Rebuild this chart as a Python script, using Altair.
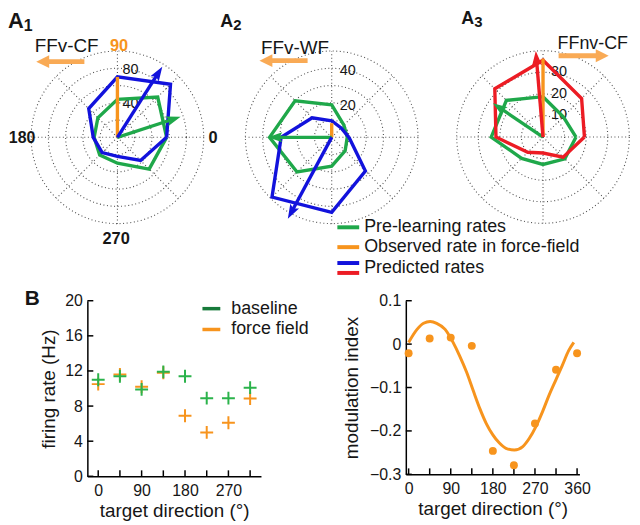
import altair as alt
import pandas as pd

# ---------------- data ----------------
directions = [0, 45, 90, 135, 180, 225, 270, 315]
spoke_angles = [0, 45, 90, 135, 180, 225, 270, 315]

# A1 (FFv-CF)
a1_rings = [20, 40, 60, 80, 100]
a1_ring_labels = [40, 80]
a1_pre = [57, 66, 44, 32, 27, 29, 30, 52]
a1_pred = [57, 87, 70, 47, 28, 25, 22, 38]
a1_obs_dir = [90]
a1_obs = [70]
a1_pre_pd_dir = [18]
a1_pre_pd_len = [77]
a1_pred_pd_dir = [57.6]
a1_pred_pd_len = [97]

# A2 (FFv-WF)
a2_rings = [10, 20, 30, 40, 50]
a2_ring_labels = [20, 40]
a2_pre = [9, 10, 18.8, 30, 36, 28.4, 16.7, 11]
a2_pred = [10, 7.7, 9.6, 16, 29.3, 48.9, 43.5, 27.6]
a2_obs_dir = [90]
a2_obs = [8.2]
a2_pre_pd_dir = [180]
a2_pre_pd_len = [37]
a2_pred_pd_dir = [241.7]
a2_pred_pd_len = [53.6]

# A3 (FFnv-CF)
a3_rings = [10, 20, 30, 40]
a3_ring_labels = [10, 20, 30]
a3_pre = [15.3, 13.3, 18.7, 24, 24, 14, 12.7, 14.3]
a3_pred = [19.2, 25.3, 35.6, 31.6, 21.8, 10, 7.4, 13.2]
a3_obs_dir = [90]
a3_obs = [36.3]
a3_pre_pd_dir = [146]
a3_pre_pd_len = [28]
a3_pred_pd_dir = [94.8]
a3_pred_pd_len = [40]

# B left: firing rates
b_dirs = [0, 45, 90, 135, 180, 225, 270, 315]
b_baseline = [11.0, 11.4, 9.9, 11.9, 11.4, 8.9, 8.9, 10.1]
b_force = [10.5, 11.6, 10.2, 11.8, 6.9, 5.0, 6.1, 8.85]
b_xlabels = [0, 90, 180, 270]
b_xticks = [0, 45, 90, 135, 180, 225, 270, 315]
b_yticks = [0, 4, 8, 12, 16, 20]

# B right: modulation index
mi_dirs = [0, 45, 90, 135, 180, 225, 270, 315, 360]
mi_vals = [-0.021, 0.013, 0.015, -0.004, -0.246, -0.279, -0.183, -0.059, -0.021]
fit_dirs = [0, 18, 32, 46, 60, 78, 95, 109, 124, 138, 152, 166, 180, 194, 208,
            226, 244, 258, 272, 286, 300, 314, 328, 342, 353]
fit_vals = [0.004, 0.034, 0.048, 0.052, 0.048, 0.034, 0.004, -0.027, -0.065, -0.107,
            -0.148, -0.183, -0.209, -0.228, -0.240, -0.244, -0.236, -0.217, -0.190,
            -0.156, -0.118, -0.084, -0.050, -0.015, 0.004]
mi_xlabels = [0, 90, 180, 270, 360]
mi_xticks = [0, 45, 90, 135, 180, 225, 270, 315, 360]
mi_yticks = [-0.3, -0.2, -0.1, 0, 0.1]

legend_top = ["Pre-learning rates", "Observed rate in force-field", "Predicted rates"]

# ---------------- styles ----------------
GREEN = "#1fa84a"
BLUE = "#1212dc"
RED = "#ec1c24"
ORANGE = "#f7941d"
ORANGE_HDR = "#f9aa55"
GREEN_M = "#2bb34b"
GREEN_LEG = "#177a3a"
GRID = "#505050"
TXT = "#161616"
FONT = "Liberation Sans"
HEAD = "M0,-1L0.62,0.8L0,0.45L-0.62,0.8Z"
HEAD_SIZE = 260
TRI = "M0,-1L1,1L-1,1Z"
PLUS = "M-1,0L1,0M0,-1L0,1"
DOTS = [1, 2.6]

BL_ORIGIN = (88, 299)
BL_W, BL_H = 175, 177
BR_ORIGIN = (409, 299)
BR_W, BR_H = 175, 175


def txt(s, origin, px, py, size, weight="normal", color=TXT, align="left", baseline="alphabetic"):
    return alt.Chart(pd.DataFrame({"t": [s]})).mark_text(
        align=align, baseline=baseline, fontSize=size, fontWeight=weight, color=color, font=FONT
    ).encode(x=alt.value(px - origin[0]), y=alt.value(py - origin[1]), text="t:N")


def hrule(origin, x1, x2, y, color, width):
    return alt.Chart(pd.DataFrame({"k": [0]})).mark_rule(color=color, strokeWidth=width).encode(
        x=alt.value(x1 - origin[0]), x2=alt.value(x2 - origin[0]), y=alt.value(y - origin[1]))


def head(origin, x, y, rot, color, size=170):
    return alt.Chart(pd.DataFrame({"k": [0]})).mark_point(
        shape=TRI, filled=True, color=color, size=size, opacity=1, angle=rot
    ).encode(x=alt.value(x - origin[0]), y=alt.value(y - origin[1]))


def polar_group(origin, hw, hh, cx, cy, ppu, rings, ring_labels, ldx, ldy,
                polys, arrows, obs_dir, obs_len):
    lx = cx - origin[0]
    ly = cy - origin[1]
    xd0 = -lx / ppu
    yd0 = (ly - hh) / ppu
    xs = alt.Scale(domain=[xd0, xd0 + hw / ppu], zero=False, nice=False)
    ys = alt.Scale(domain=[yd0, yd0 + hh / ppu], zero=False, nice=False)

    def X(f):
        return alt.X(f, type="quantitative", scale=xs, axis=None)

    def Y(f):
        return alt.Y(f, type="quantitative", scale=ys, axis=None)

    rmax = rings[-1]
    layers = []
    layers.append(
        alt.Chart(pd.DataFrame({"r": rings})).transform_calculate(o="0").mark_point(
            shape="circle", filled=False, color=GRID, strokeWidth=1.1, strokeDash=DOTS, opacity=1
        ).encode(
            x=X("o"), y=Y("o"),
            size=alt.Size("r:Q", scale=alt.Scale(type="pow", exponent=2, domain=[0, rmax],
                                                 range=[0, (2 * rmax * ppu) ** 2]), legend=None))
    )
    layers.append(
        alt.Chart(pd.DataFrame({"a": spoke_angles})).transform_calculate(
            o="0", ex=f"{rmax}*cos(datum.a*PI/180)", ey=f"{rmax}*sin(datum.a*PI/180)"
        ).mark_rule(color=GRID, strokeWidth=1.1, strokeDash=DOTS).encode(
            x=X("o"), y=Y("o"), x2="ex:Q", y2="ey:Q")
    )
    layers.append(
        alt.Chart(pd.DataFrame({"v": ring_labels})).transform_calculate(o="0").mark_text(
            align="left", baseline="middle", dx=ldx, dy=ldy, fontSize=14.5, color=TXT, font=FONT
        ).encode(x=X("o"), y=Y("v"), text="v:Q")
    )
    for rates, color in polys:
        df = pd.DataFrame({"dir": directions + directions[:1], "rate": rates + rates[:1],
                           "k": list(range(len(directions) + 1))})
        layers.append(
            alt.Chart(df).transform_calculate(
                px="datum.rate*cos(datum.dir*PI/180)", py="datum.rate*sin(datum.dir*PI/180)"
            ).mark_line(color=color, strokeWidth=3.4, strokeJoin="miter").encode(
                x=X("px"), y=Y("py"), order="k:Q")
        )
    layers.append(
        alt.Chart(pd.DataFrame({"dir": obs_dir, "len": obs_len})).transform_calculate(
            o="0", ex="datum.len*cos(datum.dir*PI/180)", ey="datum.len*sin(datum.dir*PI/180)"
        ).mark_rule(color=ORANGE, strokeWidth=3.4).encode(x=X("o"), y=Y("o"), x2="ex:Q", y2="ey:Q")
    )
    half = (HEAD_SIZE ** 0.5) / 2
    for dirs, lens, color in arrows:
        base = alt.Chart(pd.DataFrame({"dir": dirs, "len": lens})).transform_calculate(
            o="0",
            hl=f"datum.len - {half}/{ppu}",
            hx="datum.hl*cos(datum.dir*PI/180)",
            hy="datum.hl*sin(datum.dir*PI/180)",
            rot="(450 - datum.dir) % 360",
        )
        layers.append(base.mark_rule(color=color, strokeWidth=3.4).encode(
            x=X("o"), y=Y("o"), x2="hx:Q", y2="hy:Q"))
        layers.append(base.mark_point(shape=HEAD, filled=True, color=color, size=HEAD_SIZE, opacity=1).encode(
            x=X("hx"), y=Y("hy"), angle=alt.Angle("rot:Q", scale=None)))
    return alt.layer(*layers)


# ---------------- polar panels ----------------
a1 = polar_group(BL_ORIGIN, BL_W, BL_H, 118.3, 134.3, 0.87, a1_rings, a1_ring_labels, 5, 1.5,
                 [(a1_pre, GREEN), (a1_pred, BLUE)],
                 [(a1_pre_pd_dir, a1_pre_pd_len, GREEN), (a1_pred_pd_dir, a1_pred_pd_len, BLUE)],
                 a1_obs_dir, a1_obs)
a2 = polar_group(BL_ORIGIN, BL_W, BL_H, 334.3, 134.3, 1.74, a2_rings, a2_ring_labels, 8, 3,
                 [(a2_pre, GREEN), (a2_pred, BLUE)],
                 [(a2_pre_pd_dir, a2_pre_pd_len, GREEN), (a2_pred_pd_dir, a2_pred_pd_len, BLUE)],
                 a2_obs_dir, a2_obs)
a3 = polar_group(BR_ORIGIN, BR_W, BR_H, 547.3, 134.0, 2.175, a3_rings, a3_ring_labels, 8, 0,
                 [(a3_pre, GREEN), (a3_pred, RED)],
                 [(a3_pre_pd_dir, a3_pre_pd_len, GREEN), (a3_pred_pd_dir, a3_pred_pd_len, RED)],
                 a3_obs_dir, a3_obs)

# ---------------- annotations ----------------
O = BL_ORIGIN
ann_left = [
    txt("A", O, 8, 24, 22, "bold"), txt("1", O, 24, 27, 16, "bold"),
    txt("FFv-CF", O, 35, 48, 19),
    hrule(O, 44, 85, 58, ORANGE_HDR, 5), head(O, 43, 58, 270, ORANGE_HDR),
    txt("90", O, 120, 47, 16.5, "bold", ORANGE, "center"),
    txt("180", O, 35.5, 140, 16, "bold", TXT, "right"),
    txt("0", O, 210, 140, 16.5, "bold"),
    txt("270", O, 117, 242, 16.5, "bold", TXT, "center"),
    txt("A", O, 222, 23, 18, "bold"), txt("2", O, 235, 26, 15, "bold"),
    txt("FFv-WF", O, 263, 50, 19),
    hrule(O, 268, 310, 57, ORANGE_HDR, 5), head(O, 268, 57, 270, ORANGE_HDR),
    txt("B", O, 25, 303, 21, "bold"),
    hrule(O, 204, 222, 307, GREEN_LEG, 3.5), txt("baseline", O, 233, 307, 18, baseline="middle"),
    hrule(O, 204, 222, 328, ORANGE, 3.5), txt("force field", O, 233, 328, 18, baseline="middle"),
]
P = BR_ORIGIN
ann_right = [
    txt("A", P, 465, 20, 18, "bold"), txt("3", P, 478, 23, 15, "bold"),
    txt("FFnv-CF", P, 562, 45, 18),
    hrule(P, 563, 607, 52, ORANGE_HDR, 5), head(P, 607, 52, 90, ORANGE_HDR),
    hrule(P, 340, 362, 225, GREEN, 4), txt(legend_top[0], P, 367, 225, 18, baseline="middle"),
    hrule(P, 340, 362, 245, ORANGE, 4), txt(legend_top[1], P, 367, 245, 18, baseline="middle"),
    hrule(P, 340, 362, 261, BLUE, 4), hrule(P, 340, 362, 271, RED, 4),
    txt(legend_top[2], P, 367, 266, 18, baseline="middle"),
]

# ---------------- B left ----------------
xs_bl = alt.Scale(domain=[-22.5, 337.5], zero=False, nice=False)
ys_bl = alt.Scale(domain=[0, 20], zero=False, nice=False)
AX_XL = alt.Axis(values=b_xlabels, title="target direction (°)", ticks=False, grid=False,
                 labelFlush=False, labelOverlap=False, labelPadding=6, titlePadding=4)
AX_YL = alt.Axis(values=b_yticks, title="firing rate (Hz)", ticks=False, grid=False,
                 labelFlush=False, labelOverlap=False, labelPadding=5, titlePadding=6)

bl_xt = alt.Chart(pd.DataFrame({"dir": b_xticks})).mark_rule(color="black", strokeWidth=1.5).encode(
    x=alt.X("dir:Q", scale=xs_bl, axis=AX_XL), y=alt.value(BL_H), y2=alt.value(BL_H - 6))
bl_yt = alt.Chart(pd.DataFrame({"rate": b_yticks})).mark_rule(color="black", strokeWidth=1.5).encode(
    y=alt.Y("rate:Q", scale=ys_bl, axis=AX_YL), x=alt.value(0), x2=alt.value(6))
bl_base = alt.Chart(pd.DataFrame({"dir": b_dirs, "rate": b_baseline})).mark_point(
    shape=PLUS, filled=False, color=GREEN_M, strokeWidth=2, size=169, opacity=1).encode(
    x=alt.X("dir:Q", scale=xs_bl, axis=AX_XL), y=alt.Y("rate:Q", scale=ys_bl, axis=AX_YL))
bl_ff = alt.Chart(pd.DataFrame({"dir": b_dirs, "rate": b_force})).mark_point(
    shape=PLUS, filled=False, color=ORANGE, strokeWidth=2, size=169, opacity=1).encode(
    x=alt.X("dir:Q", scale=xs_bl, axis=AX_XL), y=alt.Y("rate:Q", scale=ys_bl, axis=AX_YL))
bl_cart = alt.layer(bl_xt, bl_yt, bl_ff, bl_base)

bl = alt.layer(bl_cart, a1, a2, *ann_left).resolve_scale(
    x="independent", y="independent", size="independent").properties(width=BL_W, height=BL_H)

# ---------------- B right ----------------
xs_br = alt.Scale(domain=[-6, 365], zero=False, nice=False)
ys_br = alt.Scale(domain=[-0.3, 0.1], zero=False, nice=False)
AX_XR = alt.Axis(values=mi_xlabels, title="target direction (°)", ticks=False, grid=False,
                 labelFlush=False, labelOverlap=False, labelPadding=6, titlePadding=4)
AX_YR = alt.Axis(values=mi_yticks, title="modulation index", ticks=False, grid=False,
                 labelFlush=False, labelOverlap=False, labelPadding=5, titlePadding=8,
                 labelExpr="datum.value == 0 ? '0' : format(datum.value, '.1f')")

br_xt = alt.Chart(pd.DataFrame({"dir": mi_xticks})).mark_rule(color="black", strokeWidth=1.5).encode(
    x=alt.X("dir:Q", scale=xs_br, axis=AX_XR), y=alt.value(BR_H), y2=alt.value(BR_H - 6))
br_yt = alt.Chart(pd.DataFrame({"mi": mi_yticks})).mark_rule(color="black", strokeWidth=1.5).encode(
    y=alt.Y("mi:Q", scale=ys_br, axis=AX_YR), x=alt.value(0), x2=alt.value(6))
br_fit = alt.Chart(pd.DataFrame({"dir": fit_dirs, "mi": fit_vals})).mark_line(
    color=ORANGE, strokeWidth=3, interpolate="monotone").encode(
    x=alt.X("dir:Q", scale=xs_br, axis=AX_XR), y=alt.Y("mi:Q", scale=ys_br, axis=AX_YR))
br_pts = alt.Chart(pd.DataFrame({"dir": mi_dirs, "mi": mi_vals})).mark_circle(
    color=ORANGE, size=64, opacity=1).encode(
    x=alt.X("dir:Q", scale=xs_br, axis=AX_XR), y=alt.Y("mi:Q", scale=ys_br, axis=AX_YR))
br_cart = alt.layer(br_xt, br_yt, br_fit, br_pts)

br = alt.layer(br_cart, a3, *ann_right).resolve_scale(
    x="independent", y="independent", size="independent").properties(width=BR_W, height=BR_H)

chart = alt.hconcat(bl, br, spacing=BR_ORIGIN[0] - BL_ORIGIN[0] - BL_W, bounds="flush").properties(
    padding=0
).configure(font=FONT).configure_view(stroke=None).configure_axis(
    domainColor="black", domainWidth=1.5, labelFontSize=16, titleFontSize=19,
    titleFontWeight="normal", labelColor=TXT, titleColor=TXT, labelFont=FONT, titleFont=FONT)

chart.save("out.html", embed_options={"renderer": "svg", "actions": False})
